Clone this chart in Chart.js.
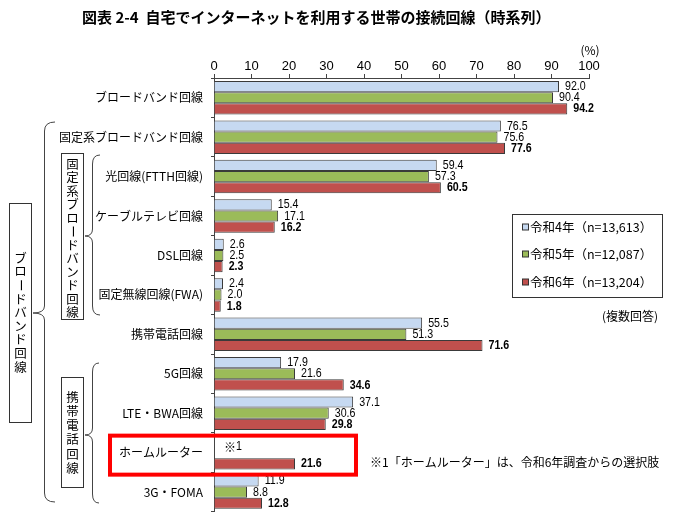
<!DOCTYPE html>
<html><head><meta charset="utf-8">
<script src="https://cdn.jsdelivr.net/npm/chart.js@4/dist/chart.umd.min.js"></script>
<style>html,body{margin:0;padding:0;background:#fff;overflow:hidden}#wrap{width:673px;height:512px;position:relative;overflow:hidden}canvas{display:block}</style>
</head><body><div id="wrap"><canvas id="c" width="673" height="512"></canvas></div>
<script>
const categories = ['ブロードバンド回線','固定系ブロードバンド回線','光回線(FTTH回線)','ケーブルテレビ回線','DSL回線','固定無線回線(FWA)','携帯電話回線','5G回線','LTE・BWA回線','ホームルーター','3G・FOMA'];
const seriesNames = ['令和4年（n=13,613）','令和5年（n=12,087）','令和6年（n=13,204）'];
const r4 = [92.0, 76.5, 59.4, 15.4, 2.6, 2.4, 55.5, 17.9, 37.1, null, 11.9];
const r5 = [90.4, 75.6, 57.3, 17.1, 2.5, 2.0, 51.3, 21.6, 30.6, null, 8.8];
const r6 = [94.2, 77.6, 60.5, 16.2, 2.3, 1.8, 71.6, 34.6, 29.8, 21.6, 12.8];
const xTicks = [0,10,20,30,40,50,60,70,80,90,100];
const colors = ['#c6d9f1','#9bbb59','#c0504d'];

const JP = '"Noto Sans CJK JP", "Noto Sans", sans-serif';
function hasFont(name){
  const c=document.createElement('canvas').getContext('2d');
  c.font='20px monospace'; const a=c.measureText('0123456789.abc').width;
  c.font='20px "'+name+'", monospace'; const b=c.measureText('0123456789.abc').width;
  return Math.abs(a-b)>0.5;
}
const NARROW_OK = hasFont('Liberation Sans Narrow');
const NUM = NARROW_OK ? '"Liberation Sans Narrow", "Arial Narrow", sans-serif' : '"Liberation Sans", Arial, sans-serif';

function numText(ctx, t, x, y, size, bold, align){
  ctx.save();
  ctx.font = (bold?'bold ':'') + size + 'px ' + NUM;
  ctx.textBaseline='middle';
  ctx.textAlign = align||'left';
  ctx.fillStyle='#000';
  if(!NARROW_OK){ ctx.translate(x,y); ctx.scale(0.82,1); ctx.fillText(t,0,0); }
  else ctx.fillText(t,x,y);
  ctx.restore();
}

function vtext(ctx, chars, cx, y0, step, size){
  ctx.save();
  ctx.font = size+'px '+JP; ctx.fillStyle='#000';
  ctx.textAlign='center'; ctx.textBaseline='middle';
  [...chars].forEach((ch,i)=>{
    const y=y0+i*step;
    if(ch==='ー'){ ctx.save(); ctx.translate(cx,y); ctx.rotate(Math.PI/2); ctx.fillText(ch,0,0); ctx.restore(); }
    else ctx.fillText(ch,cx,y);
  });
  ctx.restore();
}
function brace(ctx, x, top, bottom, tipX, tipY, hookX){
  ctx.beginPath();
  ctx.moveTo(hookX, top);
  ctx.quadraticCurveTo(x, top, x, top+9);
  ctx.lineTo(x, tipY-7);
  ctx.quadraticCurveTo(x, tipY, tipX, tipY);
  ctx.quadraticCurveTo(x, tipY, x, tipY+7);
  ctx.lineTo(x, bottom-9);
  ctx.quadraticCurveTo(x, bottom, hookX, bottom);
  ctx.stroke();
}

const labelPlugin = {
  id:'labels',
  afterDatasetsDraw(chart){
    const ctx=chart.ctx;
    chart.data.datasets.forEach((ds,i)=>{
      const meta=chart.getDatasetMeta(i);
      meta.data.forEach((el,j)=>{
        const v=ds.data[j];
        if(v===null||v===undefined) return;
        numText(ctx, v.toFixed(1), el.x+6, el.y, 13, i===2);
      });
    });
  },
  afterDraw(chart){
    const ctx=chart.ctx, ys=chart.scales.y, xs=chart.scales.x;
    ctx.save();
    ctx.font='bold 15px '+JP; ctx.fillStyle='#000'; ctx.textBaseline='middle'; ctx.textAlign='left';
    ctx.fillText('図表 2-4  自宅でインターネットを利用する世帯の接続回線（時系列）', 82, 17);
    ctx.font='12px '+JP; ctx.textAlign='center';
    ctx.fillText('(%)', xs.getPixelForValue(100)+1, 50);
    ctx.strokeStyle='#333'; ctx.lineWidth=1;
    ctx.strokeRect(512.5, 214.5, 150, 83);
    const ly=[227,254,282];
    seriesNames.forEach((n,i)=>{
      ctx.fillStyle=colors[i]; ctx.fillRect(522.5, ly[i]-3, 6, 6);
      ctx.strokeStyle='#333'; ctx.strokeRect(522.5, ly[i]-3, 6, 6);
      ctx.fillStyle='#000'; ctx.font='12.5px '+JP; ctx.textAlign='left'; ctx.textBaseline='middle';
      ctx.fillText(n, 530, ly[i]);
    });
    ctx.font='12px '+JP; ctx.textAlign='right';
    ctx.fillText('(複数回答)', 658, 316);
    const hy = ys.getPixelForValue(9);
    ctx.textAlign='left';
    ctx.fillText('※1「ホームルーター」は、令和6年調査からの選択肢', 370, hy+10);
    ctx.fillText('※', 224, hy-5);
    numText(ctx,'1', 236, hy-6, 13, false);
    ctx.strokeStyle='#ff0000'; ctx.lineWidth=4;
    ctx.strokeRect(110, hy-17, 246, 39);
    ctx.strokeStyle='#333'; ctx.lineWidth=1;
    ctx.strokeRect(9.5, 203.5, 22, 219);
    ctx.strokeRect(61.5, 153.5, 22, 166);
    ctx.strokeRect(61.5, 377.5, 22, 110);
    vtext(ctx,'ブロードバンド回線', 20.5, 258, 13.6, 12.5);
    vtext(ctx,'固定系ブロードバンド回線', 72.5, 164, 13.5, 12.5);
    vtext(ctx,'携帯電話回線', 72.5, 397, 14.2, 12.5);
    ctx.strokeStyle='#444';
    brace(ctx, 44.5, 122, 502, 33, 313, 55);
    brace(ctx, 92.5, 155, 315, 85, 236, 100);
    brace(ctx, 92.5, 363, 503, 85, 435, 99);
    ctx.restore();
  }
};

const chart = new Chart(document.getElementById('c'), {
  type:'bar',
  data:{
    labels: categories,
    datasets:[
      {label:seriesNames[0], data:r4, backgroundColor:colors[0]},
      {label:seriesNames[1], data:r5, backgroundColor:colors[1]},
      {label:seriesNames[2], data:r6, backgroundColor:colors[2]}
    ]
  },
  options:{
    indexAxis:'y', responsive:false, maintainAspectRatio:false, animation:false, devicePixelRatio:1,
    datasets:{bar:{barPercentage:1, categoryPercentage:0.85, borderWidth:1, borderColor:'#3a3a3a'}},
    layout:{padding:{left:0,right:84,top:0,bottom:0}},
    plugins:{legend:{display:false}, tooltip:{enabled:false}},
    scales:{
      x:{position:'top', min:0, max:100, afterBuildTicks(s){ s.ticks = xTicks.map(v=>({value:v})); },
        ticks:{font:{family:NUM, size:13}, color:'#000', padding:0, maxRotation:0, autoSkip:false},
        grid:{drawOnChartArea:false, drawTicks:true, tickLength:4, color:'#444'},
        border:{display:true, color:'#444'},
        afterFit(s){ s.height=78; }
      },
      y:{
        ticks:{font:{family:JP, size:12}, color:'#000', padding:8, autoSkip:false},
        grid:{drawOnChartArea:false, drawTicks:true, tickLength:3, color:'#444', offset:true},
        border:{display:true, color:'#444'},
        afterFit(s){ s.width=214; }
      }
    }
  },
  plugins:[labelPlugin]
});
// extend the canvas so the plot area reaches the bottom edge of the 512px window
const diff = 512 - chart.chartArea.bottom;
if (diff > 0.5) {
  const c = document.getElementById('c');
  c.style.height = Math.round(512 + diff) + 'px';
  chart.resize(673, Math.round(512 + diff));
}
</script></body></html>
